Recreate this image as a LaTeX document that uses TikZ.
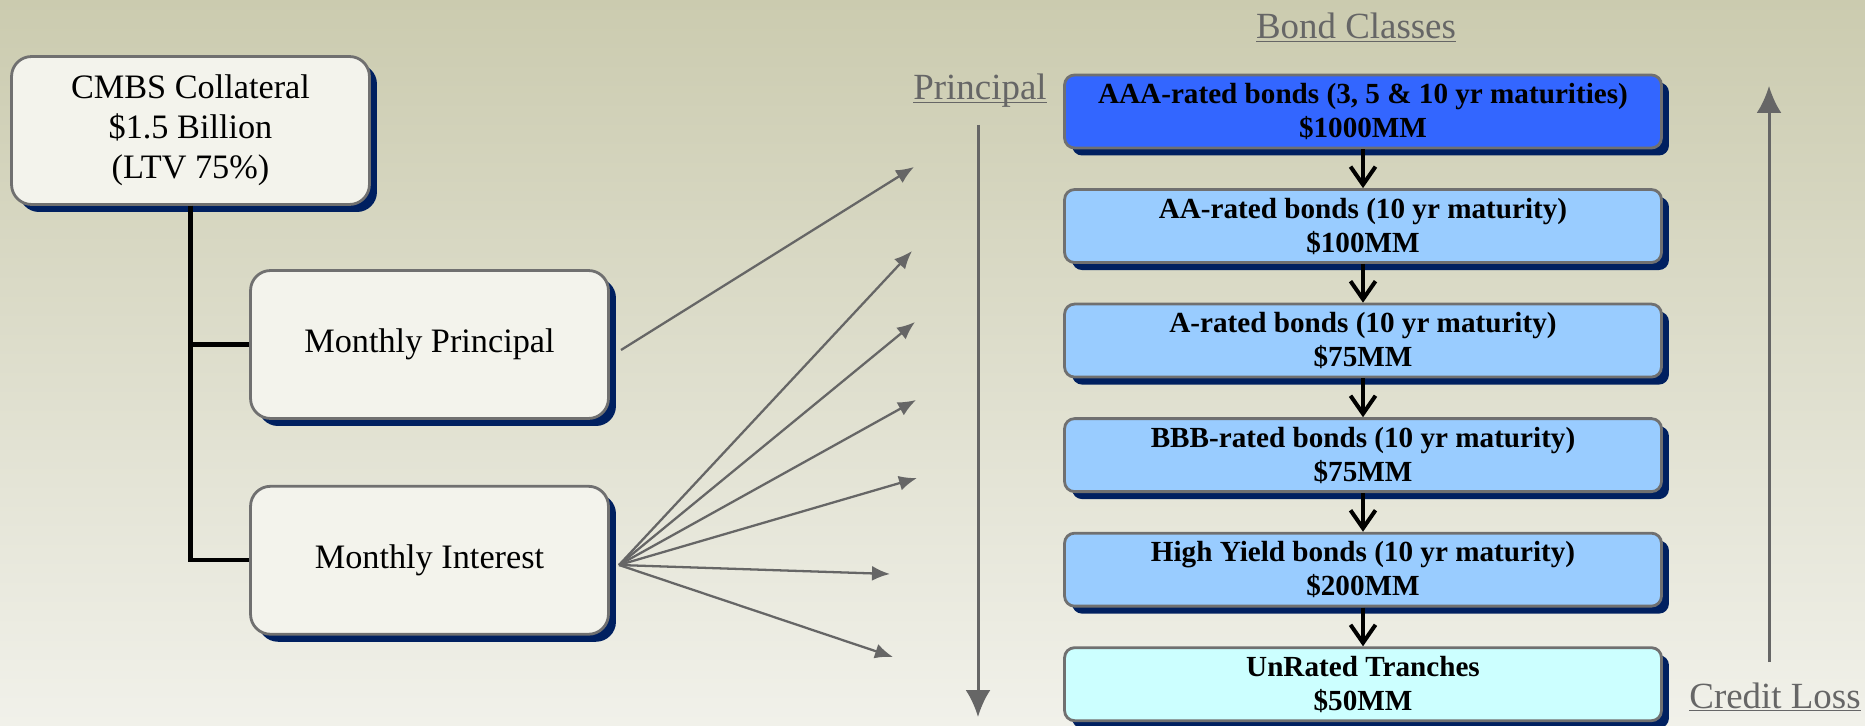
\documentclass[tikz,border=0pt]{standalone}
\usepackage{fontspec}
\setmainfont{Liberation Serif}
\usepackage{xcolor}
\usetikzlibrary{shapes,arrows.meta,positioning,calc,shadows}

\definecolor{bgtop}{RGB}{203,203,175}
\definecolor{bgbottom}{RGB}{241,241,234}
\definecolor{navyshadow}{RGB}{0,32,96}
\definecolor{boxgray}{RGB}{112,112,112}
\definecolor{paper}{RGB}{243,243,236}
\definecolor{aaablue}{RGB}{51,102,255}
\definecolor{midblue}{RGB}{153,204,255}
\definecolor{paleblue}{RGB}{204,255,255}
\definecolor{textgray}{RGB}{102,102,102}

\begin{document}
\begin{tikzpicture}[
    x=0.02cm, y=-0.02cm,
    node distance=0.775cm,
    navydrop/.style={drop shadow={shadow xshift=0.15cm, shadow yshift=-0.15cm, fill=navyshadow, opacity=1}},
    source/.style={rectangle, draw=boxgray, fill=paper, line width=1.6pt, rounded corners=0.4cm, minimum width=7.16cm, minimum height=2.96cm, align=center, font=\fontsize{19.5}{22.7}\selectfont, navydrop},
    tranche/.style={rectangle, draw=boxgray, fill=midblue, line width=1.6pt, rounded corners=0.2cm, minimum width=11.94cm, minimum height=1.46cm, inner ysep=2pt, align=center, font=\fontsize{16.6}{19.4}\selectfont\bfseries, navydrop},
    heading/.style={text=textgray, font=\fontsize{21}{25}\selectfont, anchor=base, inner sep=0pt},
    branch/.style={line width=2.3pt},
    cascade/.style={-{Straight Barb[length=0.36cm, width=0.5cm]}, line width=0.08cm},
    feed/.style={-{Latex[length=0.36cm, width=0.3cm]}, draw=textgray, line width=1.3pt},
    track/.style={-{Latex[length=0.54cm, width=0.5cm]}, draw=textgray, line width=1.7pt}
]
    \useasboundingbox (0,0) rectangle (1865,726);
    \shade[top color=bgtop, bottom color=bgbottom] (0,0) rectangle (1865,726);

    % Collateral and cash flows
    \node[source] (pool) at (190.5,130.5) {CMBS Collateral\\\$1.5 Billion\\(LTV 75\%)};
    \node[source] (principal) at (429.5,344.5) {Monthly Principal};
    \node[source, below=1.3cm of principal] (interest) {Monthly Interest};

    \draw[branch] (pool.south) |- (principal.west);
    \draw[branch] (pool.south) |- (interest.west);

    % Bond classes
    \node[tranche, fill=aaablue] (aaa) at (1363,111.5) {AAA-rated bonds (3, 5 \& 10 yr maturities)\\\$1000MM};
    \node[tranche, below=of aaa] (aa) {AA-rated bonds (10 yr maturity)\\\$100MM};
    \node[tranche, below=of aa] (a) {A-rated bonds (10 yr maturity)\\\$75MM};
    \node[tranche, below=of a] (bbb) {BBB-rated bonds (10 yr maturity)\\\$75MM};
    \node[tranche, below=of bbb] (hy) {High Yield bonds (10 yr maturity)\\\$200MM};
    \node[tranche, fill=paleblue, below=of hy] (unrated) {UnRated Tranches\\\$50MM};

    \draw[cascade] (aaa) -- (aa);
    \draw[cascade] (aa) -- (a);
    \draw[cascade] (a) -- (bbb);
    \draw[cascade] (bbb) -- (hy);
    \draw[cascade] (hy) -- (unrated);

    % Headings
    \node[heading] (classes) at (1356,39) {\underline{Bond Classes}};
    \node[heading] (priority) at (980,100) {\underline{\smash{Principal}}};
    \node[heading] (loss) at (1775,708) {\underline{Credit Loss}};

    % Priority and loss directions
    \coordinate (priorityTop) at (978,125);
    \coordinate (priorityEnd) at (978,717);
    \coordinate (lossStart) at (1769,662);
    \coordinate (lossEnd) at (1769,86);
    \draw[track] (priorityTop) -- (priorityEnd);
    \draw[track] (lossStart) -- (lossEnd);

    % Payment fan
    \coordinate (pSplit) at (621,350);
    \coordinate (iSplit) at (619,565);
    \coordinate (p1) at (914,167);
    \coordinate (i1) at (912,251);
    \coordinate (i2) at (915,322);
    \coordinate (i3) at (916,400);
    \coordinate (i4) at (917,478);
    \coordinate (i5) at (890,574);
    \coordinate (i6) at (893,657);
    \draw[feed] (pSplit) -- (p1);
    \draw[feed] (iSplit) -- (i1);
    \draw[feed] (iSplit) -- (i2);
    \draw[feed] (iSplit) -- (i3);
    \draw[feed] (iSplit) -- (i4);
    \draw[feed] (iSplit) -- (i5);
    \draw[feed] (iSplit) -- (i6);
\end{tikzpicture}
\end{document}
